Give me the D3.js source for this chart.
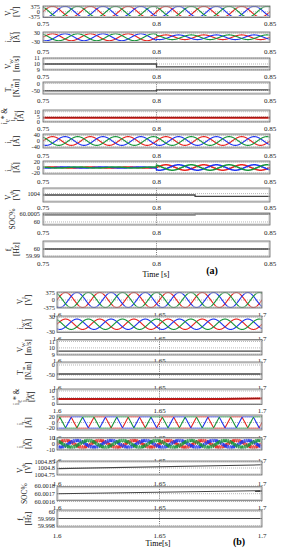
<!DOCTYPE html>
<html lang="en">
<head>
<meta charset="UTF-8">
<title>Microgrid waveforms</title>
<script src="https://d3js.org/d3.v7.min.js"></script>
<style>
  body { margin: 0; background: #fff; }
  svg { display: block; font-family: "Liberation Serif", "DejaVu Serif", serif; }
  .tick { font-size: 7px; fill: #222; }
  .ytick { font-size: 6.3px; fill: #222; }
  .ylab { font-size: 7.5px; fill: #222; }
</style>
</head>
<body>
<svg width="281" height="550"></svg>
<script>
// ---- data ----
const timeA = [0.75, 0.8, 0.85];
const timeB = [1.6, 1.65, 1.7];
const gridFreq = 60;                 // Hz
const phaseDeg = [0, -120, 120];
const phaseColors = ["#e8231f", "#1f35f0", "#17953a"];

const ticksA = [[375, 0, -375], [30, -30], [11, 10, 9], [0, -50], [10, 5, 0],
                [40, 0, -40], [20, 0, -20], [1004], [60.0005, 60], [60, 59.99]];
const ticksB = [[375, 0, -375], [30, -30], [11, 10, 9], [0, -50], [10, 5, 0],
                [20, 0, -20], [10, 0, -10], [1004.85, 1004.8, 1004.75],
                [60.0018, 60.0017, 60.0016], [60, 59.999, 59.998]];

// waveform amplitudes
const vLAmp = 375;
const iWTAmpA = [25, 17];            // before / after 0.8 s
const iWTAmpB = 22;
const iLAmpA = 30;
const iLAmpB = 20;                   // flat-topped
const iInvAmpA = [2, 10];            // before / after 0.8 s
const iInvAmpB = 7;

// slow signals [t, value]
const vWA = [[0.75, 10], [0.8, 10], [0.8, 9.5], [0.85, 9.5]];
const tmA = [[0.75, -53], [0.8, -53], [0.8, -45], [0.85, -45]];
const iPA = [[0.75, 4], [0.85, 4]];
const vdcA = [[0.75, 1003.95], [0.817, 1003.95], [0.817, 1003.9], [0.85, 1003.9]];
const socA = [[0.75, 60.00045], [0.817, 60.00045], [0.817, 60.00049], [0.85, 60.00049]];
const fsA = [[0.75, 60], [0.85, 60]];

const vWB = [[1.6, 9.5], [1.7, 9.5]];
const tmB = [[1.6, -45], [1.7, -45]];
const iPB = [[1.6, 4], [1.68, 4], [1.7, 4.4]];
const vdcB = [[1.6, 1004.795], [1.7, 1004.825]];
const socB = [[1.6, 60.0017], [1.7, 60.00174]];
const fsB = [[1.6, 59.999], [1.7, 59.999]];

const labels = [
  [["V", "L"], ["[V]"]],
  [["i", "WT"], ["[A]"]],
  [["V", "W"], ["[m/s]"]],
  [["T", "m"], ["[N.m]"]],
  [["i", "P", "* &"], ["i", "Pref"], ["[A]"]],
  [["i", "L"], ["[A]"]],
  [["i", "inv"], ["[A]"]],
  [["V", "dc"], ["[V]"]],
  [["SOC%"]],
  [["f", "s"], ["[Hz]"]]
];

// ---- layout ----
const layoutA = {
  left: 43, right: 270, labX: 11, lineGap: 8, tickGap: 3,
  tops:    [6, 32, 58, 82, 110, 134, 161, 188, 213, 241],
  heights: [11.5, 10.5, 12, 12, 12, 14, 13, 14, 12, 16],
  labY:    [26, 54, 79, 103, 131, 157.5, 184, 210, 235, 266],
  domains: [[-400, 400], [-38, 38], [8.95, 11.05], [-74, 9], [-0.3, 11.7],
            [-48, 48], [-24, 24], [1003.7, 1004.2], [59.99981, 60.00056], [59.9886, 60.0114]]
};
const layoutB = {
  left: 57, right: 262, labX: 23, lineGap: 7.5, tickGap: 2,
  tops:    [292, 316, 339.5, 362, 389, 415, 437.7, 461, 486.7, 510],
  heights: [16, 16.5, 15.5, 17.5, 15.5, 15, 12.3, 14, 14, 17],
  labY:    [317, 341, 363, 389.5, 413, 439.5, 463, 485.5, 510, 538],
  domains: [[-400, 400], [-35, 35], [8.9, 11.3], [-72.5, 15], [-0.2, 11.5],
            [-26, 26], [-10.5, 10.5], [1004.745, 1004.855], [60.00161, 60.00179], [59.9978, 60.0002]]
};

const svg = d3.select("svg");
const defs = svg.append("defs");

function threePhase(range, ampFn, shape) {
  const ts = d3.range(range[0], range[2] + 1e-9, 0.0001);
  return phaseDeg.map(p => ts.map(t =>
    [t, ampFn(t) * shape(2 * Math.PI * gridFreq * t + p * Math.PI / 180)]));
}
const sine = Math.sin;
const flatTop = a => Math.max(-1, Math.min(1, 1.8 * Math.sin(a)));
const chopped = a => 0.85 * Math.sin(a) + 0.4 * Math.sign(Math.sin(15 * a));

function drawFigure(lay, times, ticks, series, id) {
  const x = d3.scaleLinear().domain([times[0], times[2]]).range([lay.left, lay.right]);
  series.forEach((s, i) => {
    const top = lay.tops[i], h = lay.heights[i];
    const y = d3.scaleLinear().domain(lay.domains[i]).range([top + h, top]);
    const g = svg.append("g");
    const clipId = `clip-${id}-${i}`;
    defs.append("clipPath").attr("id", clipId).append("rect")
      .attr("x", lay.left).attr("y", top).attr("width", lay.right - lay.left).attr("height", h);

    g.append("rect").attr("x", lay.left).attr("y", top)
      .attr("width", lay.right - lay.left).attr("height", h).attr("fill", "#fff");

    // dotted grid at ticks
    g.selectAll(".grid").data(ticks[i]).join("line")
      .attr("x1", lay.left).attr("x2", lay.right)
      .attr("y1", d => y(d)).attr("y2", d => y(d))
      .attr("stroke", "#999").attr("stroke-width", 0.7).attr("stroke-dasharray", "1,1");
    g.append("line")
      .attr("x1", x(times[1])).attr("x2", x(times[1]))
      .attr("y1", top).attr("y2", top + h)
      .attr("stroke", "#555").attr("stroke-width", 0.8).attr("stroke-dasharray", "1,1.2");

    const line = d3.line().x(d => x(d[0])).y(d => y(d[1]));
    const plot = g.append("g").attr("clip-path", `url(#${clipId})`);
    s.lines.forEach((ln, k) => {
      plot.append("path").datum(ln)
        .attr("d", line)
        .attr("fill", "none")
        .attr("stroke", s.colors[k])
        .attr("stroke-width", s.widths[k]);
    });

    // frame
    g.append("rect").attr("x", lay.left + 1).attr("y", top + 1)
      .attr("width", lay.right - lay.left - 2).attr("height", h - 2)
      .attr("fill", "none").attr("stroke", "#c8c8c8").attr("stroke-width", 1);
    g.append("rect").attr("x", lay.left).attr("y", top)
      .attr("width", lay.right - lay.left).attr("height", h)
      .attr("fill", "none").attr("stroke", "#666").attr("stroke-width", 0.8);

    // y tick labels
    g.selectAll(".yt").data(ticks[i]).join("text")
      .attr("class", "ytick")
      .attr("x", lay.left - lay.tickGap).attr("y", d => y(d))
      .attr("dy", "0.35em").attr("text-anchor", "end")
      .text(d => String(d));

    // x tick labels
    g.selectAll(".xt").data(times).join("text")
      .attr("class", "tick")
      .attr("x", d => x(d)).attr("y", lay.labY[i])
      .attr("text-anchor", "middle")
      .text(d => String(d));

    // rotated y label
    const lines = labels[i];
    const cy = top + h / 2;
    const x0 = lay.labX - (lines.length - 2) * lay.lineGap * 0.5;
    lines.forEach((parts, j) => {
      const t = g.append("text").attr("class", "ylab")
        .attr("transform", `translate(${x0 + j * lay.lineGap},${cy}) rotate(-90)`)
        .attr("text-anchor", "middle");
      t.append("tspan").text(parts[0]);
      if (parts[1]) t.append("tspan").attr("dy", 1.8).attr("font-size", 5).text(parts[1]);
      if (parts[2]) t.append("tspan").attr("dy", -1.8).text(parts[2]);
    });
  });
}

const darkRed = "#7a1010";
const grey = "#444";
const three = [1.1, 1.1, 1.1];

const seriesA = [
  { lines: threePhase(timeA, () => vLAmp, sine), colors: phaseColors, widths: three },
  { lines: threePhase(timeA, t => t < 0.8 ? iWTAmpA[0] : iWTAmpA[1], sine), colors: phaseColors, widths: three },
  { lines: [vWA], colors: [grey], widths: [1.3] },
  { lines: [tmA], colors: [grey], widths: [1.3] },
  { lines: [iPA, iPA], colors: ["#e0201b", darkRed], widths: [2, 0.7] },
  { lines: threePhase(timeA, () => iLAmpA, sine), colors: phaseColors, widths: three },
  { lines: threePhase(timeA, t => t < 0.8 ? iInvAmpA[0] : iInvAmpA[1], sine), colors: phaseColors, widths: [1.5, 1.5, 1.5] },
  { lines: [vdcA], colors: [grey], widths: [1.3] },
  { lines: [socA], colors: [grey], widths: [1.3] },
  { lines: [fsA], colors: [grey], widths: [1.3] }
];
const seriesB = [
  { lines: threePhase(timeB, () => vLAmp, sine), colors: phaseColors, widths: three },
  { lines: threePhase(timeB, () => iWTAmpB, sine), colors: phaseColors, widths: three },
  { lines: [vWB], colors: [grey], widths: [1.3] },
  { lines: [tmB], colors: [grey], widths: [1.3] },
  { lines: [iPB, iPB], colors: ["#e0201b", darkRed], widths: [2, 0.7] },
  { lines: threePhase(timeB, () => iLAmpB, flatTop), colors: phaseColors, widths: three },
  { lines: threePhase(timeB, () => iInvAmpB, chopped), colors: phaseColors, widths: [1, 1, 1] },
  { lines: [vdcB], colors: [grey], widths: [1.1] },
  { lines: [socB], colors: [grey], widths: [1.1] },
  { lines: [fsB], colors: [grey], widths: [1.1] }
];

drawFigure(layoutA, timeA, ticksA, seriesA, "a");
drawFigure(layoutB, timeB, ticksB, seriesB, "b");

svg.append("text").attr("x", 156).attr("y", 277).attr("text-anchor", "middle")
  .attr("font-size", 8).text("Time [s]");
svg.append("text").attr("x", 212).attr("y", 274).attr("text-anchor", "middle")
  .attr("font-size", 10).attr("font-weight", "bold").text("(a)");
svg.append("text").attr("x", 158).attr("y", 546).attr("text-anchor", "middle")
  .attr("font-size", 8).text("Time[s]");
svg.append("text").attr("x", 239).attr("y", 545).attr("text-anchor", "middle")
  .attr("font-size", 10).attr("font-weight", "bold").text("(b)");
</script>
</body>
</html>
